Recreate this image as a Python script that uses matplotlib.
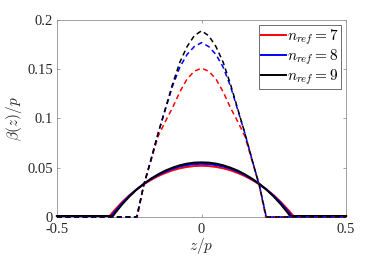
import numpy as np
import matplotlib
matplotlib.use('Agg')
import matplotlib.pyplot as plt

plt.rcParams['font.family'] = 'Liberation Serif'
plt.rcParams['mathtext.fontset'] = 'cm'

# half-profile grid (curves are symmetric about z/p = 0)
x_half = [0.0, 0.025, 0.05, 0.075, 0.1, 0.125, 0.15, 0.175, 0.2, 0.225, 0.25, 0.275, 0.3]

# solid curves: beta(z)/p, values read at x_half, plus edge point
sol_red = [0.0520, 0.0517, 0.0508, 0.0494, 0.0474, 0.0447, 0.0415, 0.0376, 0.0331, 0.0278, 0.0219, 0.0150, 0.0071]
sol_blue = [0.0540, 0.0537, 0.0527, 0.0512, 0.0490, 0.0461, 0.0426, 0.0384, 0.0335, 0.0279, 0.0214, 0.0140, 0.0053]
sol_black = [0.0555, 0.0552, 0.0542, 0.0525, 0.0501, 0.0471, 0.0433, 0.0389, 0.0336, 0.0276, 0.0206, 0.0126, 0.0035]
sol_edge = {'red': 0.318, 'blue': 0.312, 'black': 0.306}
flat_level = 0.001

# dashed curves, first 9 grid points, zero beyond edge
dash_x = [0.0, 0.025, 0.05, 0.075, 0.1, 0.125, 0.15, 0.175, 0.2]
dash_red = [0.151, 0.148, 0.140, 0.127, 0.111, 0.097, 0.082, 0.057, 0.032]
dash_blue = [0.177, 0.173, 0.165, 0.152, 0.133, 0.109, 0.085, 0.058, 0.032]
dash_black = [0.189, 0.184, 0.173, 0.157, 0.135, 0.110, 0.085, 0.058, 0.032]
dash_edge = {'red': 0.222, 'blue': 0.224, 'black': 0.224}

labels = [r'$n_{ref} = 7$', r'$n_{ref} = 8$', r'$n_{ref} = 9$']
colors = ['red', 'blue', 'black']


def full_curve(xh, yh, edge, base):
    # mirror half profile, add flat tails out to +-0.5
    xr = list(xh) + [edge, 0.5]
    yr = list(yh) + [base, base]
    xl = [-v for v in xr[::-1]]
    yl = yr[::-1]
    return np.array(xl[:-1] + xr), np.array(yl[:-1] + yr)


fig = plt.figure(figsize=(3.82, 2.63), dpi=100)
ax = fig.add_axes([0.149, 0.175, 0.757, 0.749])

for c, ys, lab in zip(colors, [sol_red, sol_blue, sol_black], labels):
    x, y = full_curve(x_half, ys, sol_edge[c], flat_level)
    ax.plot(x, y, color=c, lw=1.4, label=lab, clip_on=False, zorder=3)

for c, ys in zip(colors, [dash_red, dash_blue, dash_black]):
    x, y = full_curve(dash_x, ys, dash_edge[c], 0.0)
    ax.plot(x, y, color=c, lw=1.1, ls=(0, (3.3, 2.3)), clip_on=False, zorder=3)

ax.set_xlim(-0.5, 0.5)
ax.set_ylim(0, 0.2)
ax.set_xticks([-0.5, 0, 0.5])
ax.set_xticklabels(['-0.5', '0', '0.5'])
ax.set_yticks([0, 0.05, 0.1, 0.15, 0.2])
ax.set_yticklabels(['0', '0.05', '0.1', '0.15', '0.2'])
ax.tick_params(direction='in', length=2.5, width=0.5, color='#808080',
               labelsize=10.5, labelcolor='#262626', top=True, right=True, pad=3)
ax.tick_params(axis='x', pad=4.5)
for s in ax.spines.values():
    s.set_color('#909090')
    s.set_linewidth(0.6)

ax.set_xlabel(r'$z/p$', fontsize=11, color='#262626', labelpad=0)
ax.set_ylabel(r'$\beta(z)/p$', fontsize=11, color='#262626', labelpad=2)

leg = ax.legend(loc='upper right', fontsize=11, handlelength=1.6, handletextpad=0.1,
                borderpad=0.12, labelspacing=0.05, borderaxespad=0.35, fancybox=False,
                framealpha=1, edgecolor='#555555')
leg.get_frame().set_linewidth(0.6)

plt.savefig('out.png', dpi=100)
